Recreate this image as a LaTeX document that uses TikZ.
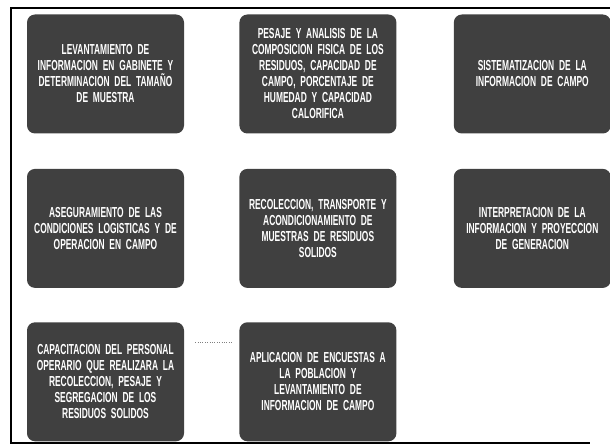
\documentclass[tikz,border=0pt]{standalone}
\usepackage{fontspec}
\newfontfamily\boxfont{Liberation Sans}[FakeStretch=0.58]
\usepackage{tikz}
\usetikzlibrary{positioning}

\definecolor{boxgray}{RGB}{64,64,64}

\begin{document}
\begin{tikzpicture}[
    x=1pt, y=1pt,
    node distance=35pt and 55pt,
    every node/.style={font=\boxfont\bfseries\fontsize{14.5}{16}\selectfont},
    task/.style={rectangle, rounded corners=8pt, fill=boxgray, text=white, minimum width=157pt, minimum height=119pt, text width=152pt, inner sep=2pt, align=center},
    frame/.style={line width=1.2pt, black},
]
\useasboundingbox (0,0) rectangle (610,-446);

\node[task] (lev) at (105.5,-74) {LEVANTAMIENTO DE\\INFORMACION EN GABINETE Y\\DETERMINACION DEL TAMAÑO\\DE MUESTRA};
\node[task, right=of lev] (pes) {PESAJE Y ANALISIS DE LA\\COMPOSICION FISICA DE LOS\\RESIDUOS, CAPACIDAD DE\\CAMPO, PORCENTAJE DE\\HUMEDAD Y CAPACIDAD\\CALORIFICA};
\node[task, right=57pt of pes] (sis) {SISTEMATIZACION DE LA\\INFORMACION DE CAMPO};

\node[task, below=of lev] (ase) {ASEGURAMIENTO DE LAS\\CONDICIONES LOGISTICAS Y DE\\OPERACION EN CAMPO};
\node[task, below=of pes] (rec) {RECOLECCION, TRANSPORTE Y\\ACONDICIONAMIENTO DE\\MUESTRAS DE RESIDUOS\\SOLIDOS};
\node[task, below=of sis] (int) {INTERPRETACION DE LA\\INFORMACION Y PROYECCION\\DE GENERACION};

\node[task, below=34pt of ase] (cap) {CAPACITACION DEL PERSONAL\\OPERARIO QUE REALIZARA LA\\RECOLECCION, PESAJE Y\\SEGREGACION DE LOS\\RESIDUOS SOLIDOS};
\node[task, below=34pt of rec] (apl) {APLICACION DE ENCUESTAS A\\LA POBLACION Y\\LEVANTAMIENTO DE\\INFORMACION DE CAMPO};

% outer frame, open on the right
\draw[frame] (610,-8) -- (11,-8) -- (11,-443) -- (590,-443);

\draw[dotted, gray] ([shift={(11,-20)}]cap.north east) -- ([shift={(-6,-20)}]apl.north west);
\end{tikzpicture}
\end{document}
